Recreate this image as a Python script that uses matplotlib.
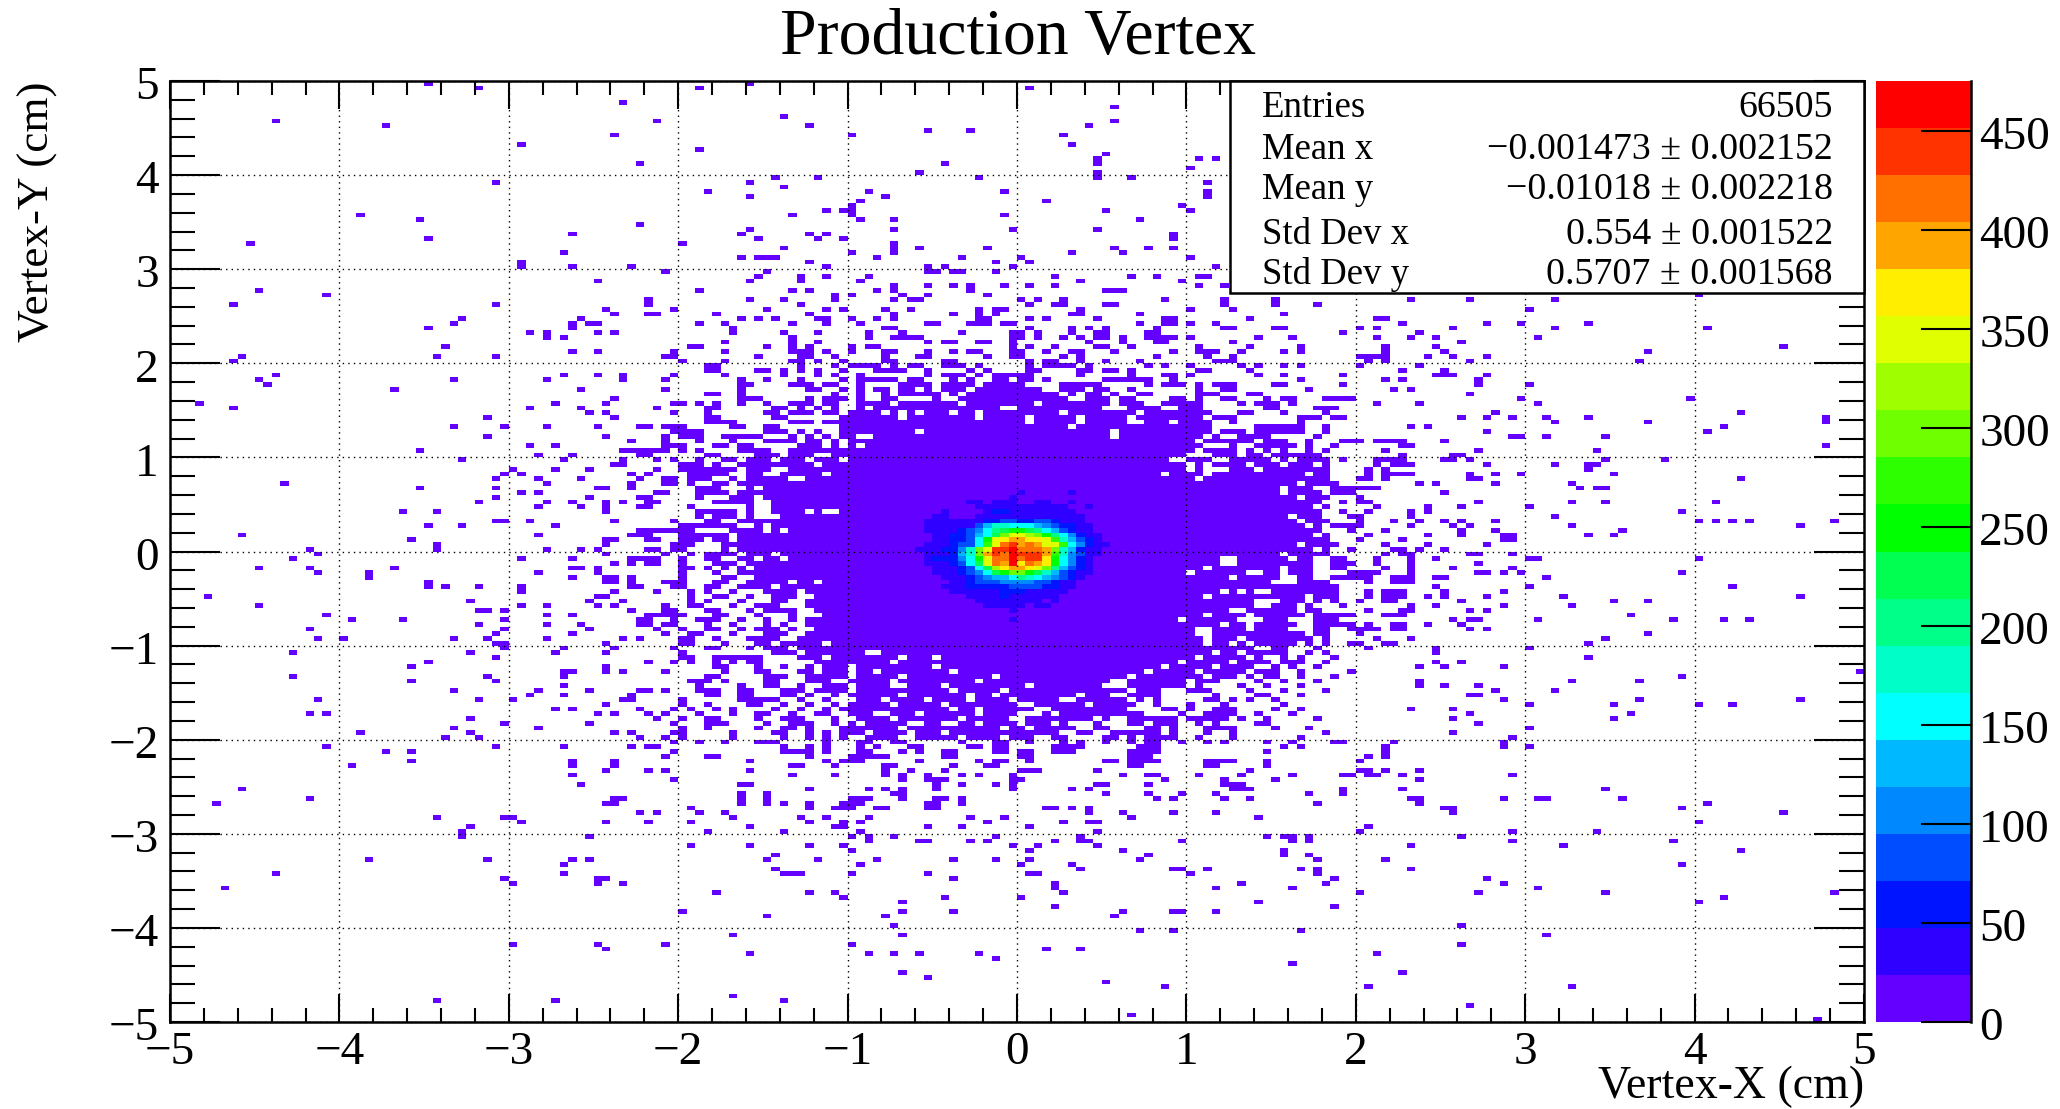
import matplotlib
import matplotlib.pyplot as plt
import numpy as np
from matplotlib.colors import BoundaryNorm, ListedColormap
from matplotlib.ticker import MultipleLocator
from matplotlib.transforms import ScaledTranslation

matplotlib.use("Agg")
plt.rcParams["font.family"] = ["Liberation Serif", "DejaVu Serif"]

W, H = 2060, 1109

title = "Production Vertex"
stat_names = ["Entries", "Mean x", "Mean y", "Std Dev x", "Std Dev y"]
stat_values = ["66505", "\u22120.001473 \u00b1 0.002152", "\u22120.01018 \u00b1 0.002218",
               "0.554 \u00b1 0.001522", "0.5707 \u00b1 0.001568"]
z_ticks = [0, 50, 100, 150, 200, 250, 300, 350, 400, 450]
z_max = 475
palette = ["#6400ff", "#2f00ff", "#0014ff", "#004cff", "#0088ff", "#00b8ff", "#00ffff",
           "#00ffc8", "#00ff88", "#00ff50", "#00ff00", "#2eff00", "#70ff00", "#9fff00",
           "#e0ff00", "#ffee00", "#ffa500", "#ff7000", "#ff3300", "#ff0000"]

# isolated cells, left side
left_x = [-3.47,-3.17,-2.32,-4.37,-3.73,-2.37,-2.93,-2.22,-3.07,-3.88,-3.52,-2.22,-2.62,-3.47,-4.53,-2.67,-2.93,-2.93,-2.62,-2.27,
 -2.47,-4.47,-4.07,-4.62,-3.07,-2.18,-2.42,-2.37,-2.18,-3.27,-2.57,-3.32,-3.47,-2.62,-2.62,-2.52,-2.47,-2.87,-2.77,-2.77,-2.47,-2.37,-2.67,-3.37,-2.62,-2.47,-4.58,-3.42,-3.07,-4.62,
 -4.37,-2.67,-2.47,-2.32,-2.32,-4.47,-3.32,-2.77,-4.42,-3.68,-2.57,-2.37,-4.83,-2.72,-2.42,-4.62,-2.87,-2.57,-2.52,-2.42,-3.12,-2.37,-3.32,-3.02,-2.77,-2.47,-2.22,-3.12,-2.42,-2.27,-2.87,-2.72,-3.52,-2.32,-2.27,-2.22,-2.17,-2.82,-2.62,-2.22,-3.27,-2.67,-2.32,-2.32,-2.37,-2.97,-2.72,-2.52,-3.02,-2.93,-2.27,-3.07,-2.82,-2.57,-2.22,-4.32,-2.77,-2.27,-2.27,-3.52,-3.07,-2.47,-2.42,-2.93,-2.82,-3.07,-2.52,-2.22,-3.17,-2.77,-2.62,-2.32,-2.18,-2.18,-2.82,-2.57,-2.42,-2.42,-2.42,-2.22,-3.63,-3.42,-3.07,-3.02,-2.87,-2.37,-3.47,-3.27,-2.72,-2.27,-2.22,-2.22,-4.58,-2.82,-3.57,-2.37,-2.42,-2.42,-2.18,-3.42,-3.42,-4.17,-2.77,-2.57,-2.47,-2.18,
 -4.12,-2.42,-4.27,-2.93,-2.62,-2.27,-2.27,-2.22,-2.17,-2.37,-4.47,-4.17,-3.68,-2.62,-2.57,-2.47,-2.47,-4.12,-2.82,-3.83,-3.83,-2.62,-2.42,-2.37,-2.42,-2.37,-2.27,-2.27,-2.27,-3.47,-3.47,-3.37,-3.17,-2.93,-2.93,-2.22,-2.37,-4.78,-2.47,-2.42,-3.22,-2.52,-2.32,-4.47,-2.93,-2.77,-2.47,-2.37,-3.17,-3.12,-3.02,-2.27,-4.07,-2.77,-2.62,-2.18,-3.93,-3.63,-3.02,-2.22,-2.22,-3.17,-2.77,-2.57,-4.17,-3.02,-2.52,-3.07,-2.62,-4.12,-3.98,-3.32,-3.12,-2.77,-2.32,-2.22,-3.07,-3.02,-2.42,-3.02,-2.67,-2.37,-4.27,-3.22,-2.72,-2.42,-3.07,-3.47,-2.18,-3.57,-2.42,-2.42,-2.67,-2.67,-2.62,-2.32,-4.27,-3.12,-3.57,-3.07,-2.67,-3.32,-2.82,-2.52,-2.22,-2.87,-2.67,-2.27,-2.27,-4.12,-3.17,-2.97,-2.32,-2.42,-2.72,-2.62,-2.22,-4.17,-4.07,-2.47,-2.37,-2.18,-3.22,-3.02,-2.52,-3.32,-2.82,-3.88,-3.22,-2.37,-2.27,-3.37,-3.17,-2.22,
 -4.07,-3.07,-2.67,-2.27,-3.73,-3.57,-3.57,-3.93,-2.62,-2.62,-2.37,-2.37,-2.42,-2.18,-2.62,-2.57,-4.58,-4.17,-2.37,-2.32,-4.73,-2.42,-2.37,-2.22,-3.42,-3.02,-2.97,-2.93,-2.42,-2.18,-3.22,-3.27,-3.27,-2.52,-3.83,-3.12,-2.62,-2.52,-2.67,-4.37,-2.67,-3.02,-2.42,-2.47,-2.47,-2.97,-2.32,-4.67,-2.97,-2.47,-2.42,-3.42,-2.72]
left_y = [4.97,4.92,4.77,4.57,4.52,4.42,4.32,4.12,3.92,3.57,3.52,3.47,3.37,3.32,3.28,3.18,3.07,3.02,3.02,3.02,
 2.87,2.77,2.72,2.62,2.62,2.65,2.57,2.52,2.52,2.47,2.47,2.42,2.37,2.42,2.37,2.42,2.42,2.32,2.32,2.27,2.32,2.32,2.27,2.17,2.12,2.12,2.07,2.07,2.07,2.02,
 1.87,1.87,1.87,1.87,1.82,1.82,1.82,1.82,1.77,1.72,1.72,1.62,1.57,1.57,1.57,1.52,1.52,1.52,1.47,1.47,1.42,1.42,1.32,1.32,1.32,1.32,1.32,1.22,1.22,1.17,1.12,1.12,1.07,1.07,1.07,1.07,1.07,1.02,1.02,1.02,0.97,0.97,0.97,0.92,0.92,0.87,0.87,0.87,0.82,0.82,0.82,0.77,0.77,0.77,0.77,0.72,0.72,0.72,0.67,0.67,0.67,0.67,0.67,0.62,0.62,0.57,0.57,0.57,0.52,0.52,0.52,0.52,0.52,0.47,0.47,0.47,0.52,0.47,0.42,0.47,0.42,0.42,0.32,0.32,0.32,0.32,0.27,0.27,0.27,0.17,0.22,0.17,0.17,0.17,0.12,0.12,0.12,0.07,0.12,0.07,0.02,0.02,0.02,0.02,0.02,0.02,
 -0.03,-0.03,-0.08,-0.08,-0.08,-0.08,-0.13,-0.08,-0.08,-0.13,-0.18,-0.18,-0.18,-0.18,-0.18,-0.18,-0.23,-0.23,-0.23,-0.23,-0.28,-0.28,-0.28,-0.28,-0.33,-0.33,-0.28,-0.33,-0.38,-0.33,-0.38,-0.38,-0.38,-0.38,-0.43,-0.38,-0.43,-0.48,-0.48,-0.48,-0.53,-0.53,-0.53,-0.58,-0.58,-0.58,-0.58,-0.58,-0.63,-0.63,-0.63,-0.63,-0.68,-0.68,-0.68,-0.68,-0.73,-0.73,-0.73,-0.73,-0.78,-0.78,-0.78,-0.78,-0.83,-0.83,-0.83,-0.88,-0.88,-0.93,-0.93,-0.93,-0.93,-0.93,-0.93,-0.93,-0.98,-0.98,-0.98,-1.03,-1.03,-1.03,-1.08,-1.08,-1.08,-1.08,-1.13,-1.18,-1.18,-1.23,-1.23,-1.28,-1.28,-1.33,-1.28,-1.28,-1.33,-1.33,-1.38,-1.38,-1.43,-1.48,-1.48,-1.48,-1.48,-1.53,-1.53,-1.53,-1.58,-1.58,-1.58,-1.58,-1.58,-1.63,-1.68,-1.68,-1.68,-1.73,-1.73,-1.73,-1.73,-1.73,-1.78,-1.83,-1.83,-1.88,-1.88,-1.93,-1.93,-1.93,-1.93,-1.98,-1.98,-1.98,
 -2.08,-2.08,-2.08,-2.08,-2.13,-2.13,-2.23,-2.28,-2.23,-2.28,-2.23,-2.28,-2.33,-2.33,-2.38,-2.48,-2.53,-2.63,-2.63,-2.63,-2.68,-2.68,-2.68,-2.78,-2.83,-2.83,-2.83,-2.88,-2.88,-2.88,-2.93,-2.98,-3.03,-3.03,-3.28,-3.28,-3.28,-3.28,-3.33,-3.43,-3.43,-3.48,-3.48,-3.48,-3.53,-3.53,-3.53,-3.58,-4.17,-4.17,-4.22,-4.77,-4.77]

# isolated cells, top centre
top_x = [-1.88,-1.57,0.08,0.58,-2.12,-1.37,-1.22,-0.98,-0.52,-0.28,0.58,0.43,0.28,0.33,-1.88,0.53,0.48,0.48,1.08,1.18,-0.42,1.03,-0.57,0.48,0.48,-1.42,-1.17,-0.23,0.68,-1.57,1.13,-1.37,-1.83,-0.88,-0.08,1.13,1.13,-1.57,-0.77,-0.93,0.18,0.98,-0.98,-0.98,-0.98,-1.13,-1.03,0.53,1.03,-1.32,-0.08,-0.93,-0.72,0.73,-1.57,-0.72,-0.03,0.48,-1.62,-1.22,-1.13,0.93,0.93,-1.52,-1.17,-1.03,-1.97,-0.72,-0.72,-0.72,-1.37,-0.57,-0.18,0.58,0.78,0.93,-0.98,0.33,0.63,-1.62,-1.52,-1.47,-1.42,-0.82,-0.33,0.03,1.03,-1.22,-0.13,0.08,-1.13,-0.52,-0.52,-0.42,-0.03,1.18,-2.07,-1.47,-0.47,-0.38,-0.33,-0.13,-1.52,-1.13,-0.88,0.23,0.68,0.83,1.08,1.13,-1.27,-1.27,-1.57,-0.93,0.38,0.98,-0.72,-0.72,-0.52,-0.38,-0.28,-0.28,-0.08,0.08,0.23,1.08,1.23,-1.88,-1.32,-1.22,-0.82,0.53,0.58,0.63,-1.08,-1.08,-0.98,-0.67,-0.52,-0.18]
top_y = [4.92,4.97,4.92,4.72,4.57,4.62,4.52,4.42,4.47,4.47,4.57,4.52,4.42,4.32,4.27,4.22,4.17,4.12,4.17,4.17,4.12,4.07,4.02,4.02,3.97,3.97,3.97,3.97,3.97,3.92,3.92,3.87,3.82,3.82,3.82,3.82,3.77,3.77,3.77,3.72,3.72,3.67,3.67,3.62,3.57,3.62,3.62,3.62,3.62,3.57,3.57,3.52,3.52,3.52,3.42,3.42,3.42,3.42,3.37,3.37,3.37,3.37,3.32,3.32,3.32,3.32,3.27,3.27,3.22,3.17,3.22,3.22,3.22,3.22,3.22,3.22,3.17,3.17,3.17,3.12,3.12,3.12,3.12,3.12,3.12,3.12,3.12,3.07,3.07,3.07,3.02,3.02,2.97,3.02,3.02,3.02,2.97,2.97,2.97,2.97,2.97,2.97,2.92,2.92,2.92,2.92,2.92,2.92,2.92,2.92,2.92,2.87,2.87,2.87,2.87,2.87,2.82,2.77,2.82,2.82,2.82,2.77,2.82,2.82,2.82,2.82,2.82,2.77,2.77,2.77,2.77,2.77,2.77,2.77,2.72,2.67,2.72,2.72,2.72,2.72]

# isolated cells, right side
right_x = [2.33,2.67,3.17,4.02,3.02,2.57,2.78,2.97,3.17,3.37,4.07,2.37,2.33,2.47,3.07,2.62,2.47,4.52,2.52,3.72,2.42,2.57,2.78,2.67,3.67,2.37,2.52,2.47,2.52,2.57,2.78,2.72,2.72,3.02,2.33,2.67,2.97,3.97,2.37,3.07,2.82,4.27,2.62,2.78,2.92,3.12,3.37,4.77,4.77,3.17,3.72,2.33,2.42,4.17,2.78,4.07,2.92,2.97,3.12,3.47,2.52,4.77,2.72,3.42,2.57,2.62,2.52,2.57,2.67,3.47,3.82,2.78,3.17,3.37,3.42,3.37,2.33,2.67,2.67,2.82,2.97,3.52,2.72,4.27,2.37,2.47,2.82,3.27,3.32,3.42,3.47,2.52,2.72,3.27,3.47,4.12,2.62,3.02,2.42,2.42,2.33,3.92,3.17,2.37,2.52,2.62,2.82,4.02,4.12,4.22,4.32,4.82,2.33,2.57,2.67,3.27,4.62,2.62,2.62,2.82,3.57,2.87,2.92,2.87,2.92,2.42,3.37,3.52,2.78,2.42,2.52,2.37,2.67,2.72,2.92,3.02,3.07,4.02,2.47,2.72,2.57,2.92,2.72,2.78,2.87,2.97,3.92,2.47,2.52,3.12,2.47,3.02,4.22,2.52,2.52,2.87,2.42,2.78,3.22,4.62,2.62,3.52,3.72,2.47,2.87,3.27,2.67,2.78,2.33,2.33,3.62,2.57,2.67,2.72,3.07,3.87,4.17,4.32,2.42,2.62,2.67,2.78,3.72,2.33,3.47,3.37,2.47,2.47,3.02,3.37,2.47,2.62,2.37,2.52,2.87,4.97,3.92,3.27,3.67,2.37,2.37,2.52,2.72,3.17,2.82,2.67,2.72,2.87,3.67,4.62,3.02,3.52,4.02,4.22,2.33,2.57,2.67,3.62,2.57,3.52,2.72,3.02,2.57,2.92,2.87,2.87,3.02,2.92,2.37,3.47,2.33,2.37,2.37,2.87,3.07,3.12,3.57,2.52,2.57,2.57,3.92,4.07,4.52,4.02,2.92,3.42,2.62,2.92,3.87,2.33,3.22,4.27,3.92,2.33,2.78,2.87,3.07,2.72,3.47,4.82,4.17,4.02,2.62,3.12,2.62,3.27,2.67,4.72]
right_y = [2.68,2.68,2.68,2.72,2.58,2.38,2.43,2.43,2.38,2.43,2.38,2.33,2.28,2.28,2.28,2.23,2.18,2.18,2.13,2.13,2.08,2.08,2.08,2.02,2.02,1.97,1.93,1.88,1.88,1.88,1.88,1.83,1.78,1.78,1.73,1.68,1.63,1.63,1.58,1.58,1.47,1.47,1.43,1.43,1.43,1.43,1.43,1.43,1.38,1.37,1.37,1.32,1.32,1.32,1.27,1.27,1.22,1.22,1.22,1.22,1.17,1.12,1.07,1.07,1.02,1.02,0.97,0.97,0.97,0.97,0.97,0.92,0.92,0.92,0.92,0.87,0.83,0.82,0.77,0.83,0.83,0.83,0.77,0.77,0.72,0.72,0.72,0.72,0.67,0.67,0.67,0.62,0.52,0.52,0.52,0.52,0.47,0.47,0.47,0.42,0.42,0.42,0.37,0.32,0.32,0.32,0.32,0.32,0.32,0.32,0.32,0.32,0.27,0.27,0.27,0.27,0.27,0.22,0.17,0.22,0.22,0.17,0.17,0.12,0.12,0.17,0.17,0.17,0.07,0.07,0.02,0.02,-0.03,-0.03,-0.03,-0.08,-0.08,-0.08,-0.08,-0.13,-0.18,-0.18,-0.23,-0.23,-0.23,-0.23,-0.23,-0.28,-0.28,-0.28,-0.38,-0.38,-0.38,-0.43,-0.48,-0.43,-0.48,-0.48,-0.48,-0.48,-0.53,-0.53,-0.53,-0.58,-0.58,-0.58,-0.63,-0.63,-0.58,-0.63,-0.68,-0.73,-0.73,-0.73,-0.73,-0.73,-0.73,-0.73,-0.78,-0.78,-0.83,-0.83,-0.88,-0.93,-0.93,-0.98,-1.03,-1.08,-1.03,-1.13,-1.18,-1.18,-1.23,-1.23,-1.23,-1.28,-1.33,-1.38,-1.38,-1.38,-1.43,-1.43,-1.43,-1.48,-1.48,-1.53,-1.53,-1.58,-1.58,-1.58,-1.63,-1.63,-1.63,-1.63,-1.68,-1.68,-1.73,-1.73,-1.78,-1.78,-1.83,-1.88,-1.93,-1.98,-2.03,-2.08,-2.08,-2.38,-2.43,-2.52,-2.62,-2.62,-2.68,-2.62,-2.62,-2.62,-2.62,-2.72,-2.72,-2.78,-2.72,-2.67,-2.77,-2.87,-2.97,-2.97,-3.02,-3.07,-3.07,-3.13,-3.13,-3.17,-3.32,-3.37,-3.47,-3.52,-3.57,-3.62,-3.62,-3.62,-3.67,-3.72,-3.97,-4.07,-4.17,-4.62,-4.83,-4.97]

# isolated cells, bottom centre
bottom_x = [-2.13,-1.93,-1.88,-1.72,-1.67,-1.23,-1.08,-1.28,-1.13,-1.93,-1.23,-1.03,-1.03,-1.57,-1.08,-1.83,-1.38,-0.8,-0.93,-0.88,-0.93,-0.98,-0.88,-0.88,-0.72,-0.52,-0.47,-0.52,-0.28,-0.33,-0.18,-0.08,-0.28,-0.18,-0.13,-0.57,-0.52,0.08,0.2,0.32,0.42,0.42,0.27,0.42,0.47,0.62,0.67,0.93,1.17,1.42,0.47,0.37,0.37,0.42,0.22,0.98,1.47,1.57,1.62,1.62,1.72,1.72,2.02,2.07,-1.93,-1.57,-1.23,-1.03,-0.03,0.13,0.47,2.32,-0.98,0.08,0.62,-1.42,0.77,1.57,1.57,1.72,-1.47,-1.18,-0.82,-0.38,-0.13,0.08,0.72,1.77,2.17,-0.93,0.02,0.32,-1.42,0.37,0.93,0.98,1.12,1.67,1.77,1.77,2.32,-1.38,-1.33,-1.28,-0.98,-0.52,0.08,0.13,1.03,-0.38,1.87,1.32,1.82,0.22,0.22,1.17,1.62,-1.78,-1.23,-1.08,0.27,2.02,-1.03,-0.43,0.02,-0.67,1.42,0.22,1.87,-1.98,-0.67,-0.38,0.62,0.93,0.98,1.17,-1.47,-0.77,0.57,-0.72,0.72,0.93,1.67,-1.67,-0.67,-2.08,-0.98,0.17,0.37,-1.57,-0.88,-0.72,-0.57,-0.23,2.12,-0.13,1.62,-0.67,-0.52,2.27,0.52,0.87,2.07,-1.67,-1.38,0.67]
bottom_y = [-2.77,-2.72,-2.77,-2.77,-2.82,-2.71,-2.71,-2.82,-2.82,-2.87,-2.87,-2.87,-2.92,-2.92,-2.92,-2.97,-2.97,-2.72,-2.87,-2.82,-2.97,-3.02,-3.02,-3.07,-3.02,-2.72,-2.72,-2.92,-2.82,-2.92,-2.87,-2.82,-3.07,-3.07,-3.02,-3.07,-3.07,-2.92,-2.72,-2.72,-2.72,-2.77,-2.87,-2.87,-2.87,-2.77,-2.82,-2.77,-2.77,-2.82,-2.97,-3.02,-3.07,-3.07,-3.07,-3.07,-3.02,-3.02,-3.02,-3.07,-3.02,-3.07,-2.97,-2.92,-3.12,-3.12,-3.12,-3.12,-3.12,-3.12,-3.12,-3.12,-3.17,-3.17,-3.17,-3.22,-3.22,-3.17,-3.22,-3.22,-3.27,-3.27,-3.27,-3.27,-3.27,-3.27,-3.27,-3.27,-3.27,-3.32,-3.32,-3.32,-3.37,-3.37,-3.37,-3.37,-3.37,-3.37,-3.37,-3.42,-3.37,-3.42,-3.42,-3.42,-3.42,-3.42,-3.42,-3.42,-3.42,-3.47,-3.47,-3.52,-3.52,-3.52,-3.57,-3.57,-3.57,-3.62,-3.62,-3.62,-3.62,-3.62,-3.67,-3.67,-3.67,-3.72,-3.72,-3.77,-3.77,-3.82,-3.82,-3.82,-3.82,-3.82,-3.82,-3.82,-3.87,-3.87,-3.87,-3.97,-4.02,-4.02,-4.02,-4.07,-4.07,-4.17,-4.17,-4.22,-4.22,-4.27,-4.27,-4.27,-4.27,-4.27,-4.27,-4.32,-4.37,-4.47,-4.52,-4.47,-4.57,-4.62,-4.62,-4.72,-4.77,-4.92]

# occupied runs per y bin (bin numbers 0-199), middle of the plot
filled_rows = {
 153: "56 68 72 78 85 87-88 100 102 105 117 124 130 146",
 152: "56 74 101 104-105 110-111 124 130 135",
 151: "59 70 77 79 84 87 95 97-98 107 120 125",
 150: "56-57 64 75 85 92 95 97 106-107 114 131",
 149: "67 69 71 76-77 80 83 85 95-96 101 103 109 117-118 127 142-143",
 148: "62 65 73 77 81 89-90 94-96 98-99 114 117-118 120 123 145",
 147: "66 84-85 101 106 108 110 116 124-125 130-131 140 142",
 146: "66 72 76 82 86 93 99-100 102 106 109-110 115-116 138",
 145: "73 82 85-88 99-100 102 105 107 109-110 112 115-118 120 128 132 142 146",
 144: "65 73 76 89 91-92 95-96 99 108 112 116-117 125",
 143: "61-62 70 73 75 80 82-83 99 101 104 109-110 113 121 127 133 143",
 142: "59 65 73-74 75 77 80 84-85 89 92 94-95 99-100 103 106-107 111 118 121-123 126 131 133 143",
 141: "58-59 69 74-75 78 84 88-89 96 99-100 105 107 116 122 125 140-143",
 140: "60 65 73-74 76 79 84-85 91-92 101 103-104 107 110 114 123-125 141 143",
 139: "63-64 74 78 80-83 85 87-88 91-93 95 101 103-106 108 115 117 120 126 128 131 133 140 147",
 138: "63-64 69-70 72 74 76 79 83-86 89 94 96 101-102 107-108 110-111 113 121-122 127 145",
 137: "59 65 72 76 78 81 89 91-93 95 97-101 107 113 117-118 120 128 131 138",
 136: "58 67 70 74 79 81-85 87-88 92 94 97-98 100-101 103 110-115 118 133 143 145",
 135: "67-68 73-75 77-78 81 86-89 91-94 96-100 105-109 115 117-119 121 123-125 130-131 138",
 134: "58 67 75-76 79 81 83-84 86-87 89 91-93 95-102 105-107 109-110 113 121 124-125 134 144 146",
 133: "63-64 67 78 81 84 86-90 92 94-104 106 108-109 111 114-115 121-123 127-128",
 132: "67-68 69 75 77-79 81 84-85 90 93-105 108-110 112-113 118-119 121 124-125 129 131-132 136-139",
 131: "59-60 62 64 67 70 73-75 77-78 81-84 86-92 94-101 103-104 105-110 112-114 117-121 126 128-130 132 142 147",
 130: "57 63-64 71-72 74 76 78 81 83-84 85-97 100-109 113-114 115-116 119-121 129-130 135-137",
 129: "59 63 70-71 73-75 77-78 80-83 85 87 89-91 93-94 96-104 106-113 115-120 121-122 126-127 131 136",
 128: "63-64 71-72 79-85 87-94 96-100 102-106 108-112 114-120 121 123-125 133-134 135 137-138",
 127: "63-66 73-75 77-78 79-100 102-106 108-112 115-117 119-120 121-122 125 133",
 126: "56 58-60 66-67 70-71 79-105 107-122 128-133 136",
 125: "59 60-62 70-72 74 76 79-87 89-110 112-122 124-126 128-133 136",
 124: "58 60-62 65-69 73 75 77 79-80 83-110 112-121 123 126-127 128-129 135",
 123: "58 62 66 70-71 72-73 75-76 78 80-105 106-120 122-127 129-131 134 138-140 142-145",
 122: "58-59 60 64-65 67-68 74-76 78 80 82-118 119-121 125 128-132 134 137 145-146",
 121: "56-58 60 62 67-70 73-79 80-120 122-125 127 129 131 134 136 143",
 120: "56 63-64 69-71 73-75 78-79 80-119 123-125 127-128 130-131 132-135 145",
 119: "57 59 62 65-66 68-70 72-74 76-78 80-113 114-117 120-122 125-129 131 133-136 138 142-145",
 118: "60-62 64 67-68 69-75 77-119 121 123-126 128-130 132-134 136 142 144-146",
 117: "57 60-66 68-70 73-112 113-119 121 125-127 129-134 135-136 141 143",
 116: "56 61-65 68-69 72-76 78-116 118-121 123-128 129-133 135-136 141 143-145",
 115: "58-59 61-63 66 68-72 75-120 122-128 129-136 140-141 143",
 114: "58-59 61 64-65 67-119 120-132 134-137",
 113: "62-64 68 70-120 121-124 125-130 132-134 137-140 141-142",
 112: "57-58 62-65 67-69 70-130 132-135 137-139",
 111: "56 62 66-68 70-125 126-132 134-136 140",
 110: "56-57 64-68 71-130 131-135 138 140-141",
 109: "61 68 71-130 131-134 136 142",
 108: "62-66 68 71-74 76 79-132 133-135 138 141",
 107: "62 64-66 68 72-131 133-135 139-140 146",
 106: "59 63-64 67-69 70-132 134-136 140 144",
 105: "60-66 69 71-133 135 137-140 146",
 104: "56-61 66-67 68-69 71 73-133 134-135 139 143",
 103: "56 60-63 64-65 67-134 136 141",
 102: "57 60-62 64-65 67-134 135-136 140 145",
 101: "59-61 65-66 67-132 134-137 143",
 100: "57 59-60 65 67-134 136 139 144-145",
 99: "58 61 63-66 68-70 72-130 132-136 143 145-146",
 98: "56-57 60 63-64 67-68 70-71 73-123 126-131 133-134 137-138 142 146",
 97: "56-57 60 64-66 68-123 126-131 132-134 137-139 142 146",
 96: "60-61 63 65 67 69-121 123-130 132-134 137-138 143 146",
 95: "60 64 67-119 121-126 129-130 132-134 139-142 146",
 94: "60 65-66 69-124 126-130 133-134 137-138 139-141 144-146",
 93: "58-59 60 64-65 68-72 74-75 77-129 133-136 141 144-146",
 92: "59 60 63-64 67-70 72-132 133-137",
 91: "57 61 63 66 70-73 75-123 125 127 130-137 141 143-145",
 90: "61 64-65 68 71-73 76-121 123-130 131-133 135-137 141 143-145",
 89: "61 63 67 71-72 75-127 131-133 135 137 140 143-144",
 88: "58 61-62 66 69-71 75-127 130-132 134 138 146",
 87: "58-59 63-64 68 70-73 76-124 127-129 130-132 134-135 141 145-146",
 86: "57-60 64-65 69 73 77-121 123-126 128-131 132-133 135-139 143-145",
 85: "56 59 62-64 67 70 73 75-118 120-125 129 130-131 135-137",
 84: "56 58-59 63 66 70 72 75-123 125-126 128-130 131-132 135-136 137-139 141 144-145",
 83: "57 60 63-64 67 69-71 73 76-120 123-126 128-130 131 135-136 139-142 144-145",
 82: "58 61-62 66 70-72 75-78 79-120 123-128 129-133 135-136 140",
 81: "60-61 64 68-71 74-121 123-125 127-133 134 136 142",
 80: "60-61 65 69-70 72-76 78-121 123-124 126 128-129 130-131 132 134 136 139-140 143-144",
 79: "59 63-64 68 70-72 74-125 126-127 130-131 135 141",
 78: "60 71-73 75-81 84-122 124-125 127 128-131 134 136",
 77: "60-61 64-65 66-69 74-76 78-85 87-89 91-120 122-126 128 131 133 137",
 76: "56 59 61 64 66 68-69 76-78 79-84 86-118 120-124 126-129 131-133 136",
 75: "64-65 69 72 75 77-79 81-89 91-116 118-122 124-127 130 132 135",
 74: "58 65 69-70 74-75 77-79 81-82 84-91 93-114 116-120 122-126 128-130 133 139",
 73: "63-64 70-72 75-79 81-85 87-96 98-112 114-121 123-125 127 129-130 133 137",
 72: "61-63 65 70-71 75-77 80-84 86-94 96-110 113-119 121-123 128 131 135",
 71: "62 67 70-71 74 77-79 81-84 87-90 92-100 102-109 113-119 121 126 129 133",
 70: "56 58 62-64 67-68 72-74 76-79 81-91 93-97 99-112 114-116 120-122 127 131 136",
 69: "63-64 67-68 72-73 75 78 80-85 87-93 95-96 98-106 108-110 113-116 123 128-129 133",
 68: "60 67-69 70-71 74 77 81-83 85-88 90-93 95-98 100-104 107-112 114 116 122-123 125 127 130",
 67: "60 63 68-69 72 75 78 80-84 86-90 92-99 102-107 109-113 116 120 124 131",
 66: "59 61 64 66 71 74 77 79-91 93-94 96-101 104-112 117-118 120 123-125 130 133",
 65: "58 62 66 69-70 73 76-77 80-82 85-87 89-94 96-99 103 105-114 119 122-125 128 132",
 64: "57 60 63-64 69 72-74 78 81-84 86-92 94-98 101-108 110 113-118 120-124 126 129 135",
 63: "59 63-65 70 73-75 78 80 82-86 89-90 93-94 96-99 101-103 105 109 113-114 116-118 121 123 128-129",
 62: "60 63 69 72-73 75 79-85 87-97 99-100 102-106 109-110 115-116 118 122-125 130 134",
 61: "59-60 66 71-72 75 77 79-81 83-86 88-90 92-100 101-104 107-108 111-112 113-116 118 122 125 136",
 60: "58 60 66 72 75 77 79 82-85 88-92 94-97 99-101 104-105 110-111 113 115-118 121 125 133",
 59: "59 62 65 69-71 77 81-82 85-86 93 97-98 101 105 107 110 113 115-116 119 122 124 129 132 137-138 144",
 58: "56-57 72 75 77 81 83 87-88 94-95 97-98 104-107 114-116 131 133 143",
 57: "59 72-75 77 81-82 86 88 91-92 97-98 100-101 104-106 113-116 129 143",
 56: "58 63-64 75 80-84 91-92 100-101 113-115 141 143",
 55: "68 77 79-81 88 95 97-98 101 110-111 113-116 122-124 125 129 140",
 54: "73-74 78 84-85 92 96-97 113-114 122-123 129",
 53: "56 58 68 84 87 91 100-102 109 127 140-141 143 147",
 52: "73 78 84 86 89 93 95 99 112 115-116 121 126 132 138-139 141-142 145",
 51: "59 86 89-91 99-100 117 124 130 147",
 50: "67-68 90 93 97 99 109-110 115 124-126",
 49: "75 82 84 86 90 99 106 108 125-127 138 145",
 48: "67 70 85-86 110 115 119 123 134 138",
 47: "67 70 80-82 86 90-91 93 116 118 124 127 146-147",
 46: "67 70 72 75 79-81 89-90 93 135",
 45: "61 79-80 83-84 89-90 103-104 106 108",
}

# counts around the peak: first bin number and values per y bin
core_rows = {
 112: (100, [36, 12, 12, 12, 12, 12, 36]),
 111: (99, [36]),
 110: (94, [36, 36, 12, 36, 36, 36, 12, 12, 36, 36, 12, 12, 36]),
 109: (95, [36, 36, 36, 36, 36, 36, 36, 36, 36, 36, 36, 12, 12, 36]),
 108: (91, [36, 12, 12, 12, 12, 36, 60, 60, 36, 36, 36, 36, 36, 36, 36, 36]),
 107: (90, [36, 36, 12, 12, 12, 36, 36, 36, 36, 36, 36, 36, 36, 36, 36, 36, 36, 36]),
 106: (89, [36, 36, 36, 36, 36, 36, 36, 60, 60, 83, 83, 60, 60, 83, 83, 60, 36, 36, 36]),
 105: (89, [36, 36, 36, 36, 36, 36, 83, 131, 178, 178, 155, 155, 155, 131, 107, 83, 60, 60, 36, 36]),
 104: (89, [36, 36, 36, 36, 60, 83, 107, 155, 202, 226, 250, 250, 226, 202, 155, 131, 83, 60, 36, 36]),
 103: (90, [36, 36, 60, 60, 83, 131, 155, 226, 297, 345, 345, 321, 297, 250, 202, 155, 107, 60, 36, 36]),
 102: (90, [36, 36, 60, 60, 83, 155, 250, 345, 368, 392, 392, 368, 368, 345, 273, 178, 131, 83, 60, 36]),
 101: (89, [36, 36, 36, 60, 83, 83, 155, 273, 345, 416, 440, 392, 416, 392, 345, 345, 273, 155, 107, 60, 36, 36]),
 100: (88, [36, 36, 36, 60, 60, 107, 178, 297, 345, 440, 440, 463, 416, 416, 416, 392, 297, 178, 131, 60, 36, 36]),
 99: (89, [36, 36, 36, 60, 131, 178, 297, 392, 440, 416, 463, 440, 440, 440, 392, 273, 178, 107, 83, 36, 36]),
 98: (89, [36, 60, 60, 60, 107, 155, 250, 345, 416, 416, 463, 416, 440, 440, 368, 250, 155, 107, 60, 36]),
 97: (89, [36, 36, 36, 60, 83, 155, 226, 345, 416, 392, 463, 368, 416, 392, 368, 250, 155, 107, 60, 36]),
 96: (90, [36, 36, 36, 60, 83, 155, 226, 321, 368, 392, 392, 368, 345, 297, 202, 131, 83, 60, 36]),
 95: (90, [36, 36, 36, 60, 83, 107, 155, 226, 250, 297, 297, 250, 226, 178, 131, 83, 60, 36, 36]),
 94: (91, [36, 36, 36, 60, 83, 107, 131, 131, 155, 202, 178, 155, 131, 107, 83, 60, 36]),
 93: (92, [36, 36, 60, 83, 83, 83, 107, 107, 107, 107, 83, 83, 60, 36, 36]),
 92: (91, [36, 36, 36, 60, 60, 60, 60, 60, 83, 83, 83, 83, 60, 60, 36, 36]),
 91: (91, [12, 36, 36, 36, 36, 36, 36, 60, 60, 60, 36, 36, 36, 36, 36]),
 90: (94, [36, 36, 36, 36, 60, 36, 36, 36, 36, 36, 36]),
 89: (95, [36, 36, 36, 36, 36, 36, 36, 36, 12, 36]),
 88: (96, [36, 36, 36, 36, 36, 12, 36, 36]),
 87: (99, [36]),
 85: (99, [36]),
}

occupied = 5

hist = np.zeros((200, 200))
for xs, ys in [(left_x, left_y), (top_x, top_y), (right_x, right_y), (bottom_x, bottom_y)]:
    for x, y in zip(xs, ys):
        hist[int((y + 5) / 0.05), int((x + 5) / 0.05)] = occupied
for iy, runs in filled_rows.items():
    for run in runs.split():
        a, _, b = run.partition("-")
        hist[iy, int(a):int(b or a) + 1] = occupied
for iy, (first, counts) in core_rows.items():
    hist[iy, first:first + len(counts)] = counts

edges = np.linspace(-5, 5, 201)
levels = np.linspace(0, z_max, len(palette) + 1)
cmap = ListedColormap(palette)
norm = BoundaryNorm(levels, cmap.N)

fig = plt.figure(figsize=(W / 100, H / 100), dpi=100)
ax = fig.add_axes([170 / W, 1 - 1022 / H, 1694 / W, 941 / H])
mesh = ax.pcolormesh(edges, edges, np.ma.masked_equal(hist, 0), cmap=cmap, norm=norm,
                     antialiased=False, linewidth=0)
ax.set_xlim(-5, 5)
ax.set_ylim(-5, 5)
ax.set_axisbelow(False)
ax.grid(True, which="major", color="black", lw=1.0, linestyle=(0, (1, 3)))
ax.xaxis.set_major_locator(MultipleLocator(1))
ax.xaxis.set_minor_locator(MultipleLocator(0.2))
ax.yaxis.set_major_locator(MultipleLocator(1))
ax.yaxis.set_minor_locator(MultipleLocator(0.2))
ax.tick_params(axis="x", which="major", direction="in", top=True, length=20, width=1.5, labelsize=34, pad=7)
ax.tick_params(axis="x", which="minor", direction="in", top=True, length=10, width=1.5)
ax.tick_params(axis="y", which="major", direction="in", right=True, length=36, width=1.5, labelsize=34, pad=8)
ax.tick_params(axis="y", which="minor", direction="in", right=True, length=18, width=1.5)
for spine in ax.spines.values():
    spine.set_linewidth(1.8)

cax = fig.add_axes([1876 / W, 1 - 1022 / H, 95 / W, 941 / H])
cb = fig.colorbar(mesh, cax=cax, ticks=z_ticks)
cb.outline.set_visible(False)
cb.minorticks_off()
cax.spines["right"].set_visible(True)
cax.spines["right"].set_linewidth(1.8)
cax.tick_params(direction="in", length=36, width=1.5, labelsize=34, pad=6, right=True, left=False)

# ROOT puts the numbers a little under the tick
nudge = ScaledTranslation(0, -2 / 100, fig.dpi_scale_trans)
for lab in ax.get_yticklabels() + cax.get_yticklabels():
    lab.set_transform(lab.get_transform() + nudge)

fig.text(1018 / W, 1 - 38 / H, title, ha="center", va="center", fontsize=47.3)
fig.text(1864 / W, 1 - 1087 / H, "Vertex-X (cm)", ha="right", va="center", fontsize=33)
fig.text(38 / W, 1 - 81 / H, "Vertex-Y (cm)", ha="center", va="top", rotation=90, fontsize=32.5)

box = plt.Rectangle((1230 / W, 1 - 293 / H), 634 / W, 212 / H, transform=fig.transFigure,
                    facecolor="white", edgecolor="black", lw=1.8, zorder=5)
fig.add_artist(box)
stat_px = [108, 150, 190, 235, 275]
for name, value, py in zip(stat_names, stat_values, stat_px):
    fig.text(1262 / W, 1 - py / H, name, ha="left", va="center", fontsize=26.5, zorder=6)
    fig.text(1833 / W, 1 - py / H, value, ha="right", va="center", fontsize=27.3, zorder=6)

fig.savefig("out.png", dpi=100)
plt.close(fig)
